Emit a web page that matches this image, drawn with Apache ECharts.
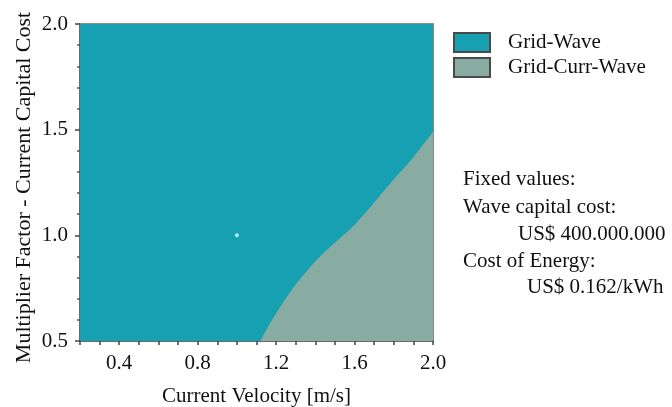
<!DOCTYPE html>
<html>
<head>
<meta charset="utf-8">
<script src="https://cdn.jsdelivr.net/npm/echarts@6/dist/echarts.min.js"></script>
<style>
  html, body { margin: 0; padding: 0; background: #ffffff; }
  #chart { width: 672px; height: 407px; }
</style>
</head>
<body>
<div id="chart"></div>
<script>
// Region boundary between the two optimal configurations
const boundaryX = [1.12, 1.17, 1.22, 1.29, 1.36, 1.44, 1.53, 1.61, 1.70, 1.80, 1.90, 2.00];
const boundaryY = [0.50, 0.585, 0.66, 0.755, 0.835, 0.915, 0.99, 1.06, 1.155, 1.265, 1.37, 1.49];

const xRange = [0.2, 2.0];
const yRange = [0.5, 2.0];
const xLabelTicks = [0.4, 0.8, 1.2, 1.6, 2.0];
const yLabelTicks = [0.5, 1.0, 1.5, 2.0];

const seriesNames = ['Grid-Wave', 'Grid-Curr-Wave'];
const baseCase = [1.0, 1.0];

const noteLines = [
  'Fixed values:',
  'Wave capital cost:',
  'US$ 400.000.000',
  'Cost of Energy:',
  'US$ 0.162/kWh'
];

const TEAL = '#16a0b2';
const GREY = '#88aca2';
const FONT = '"Liberation Serif", "DejaVu Serif", serif';
const FS = 21;

const chart = echarts.init(document.getElementById('chart'), null, { renderer: 'canvas' });

const fullArea = [[xRange[0], yRange[1]], [xRange[1], yRange[1]]];
const boundaryData = boundaryX.map((x, i) => [x, boundaryY[i]]);

function isLabelTick(v, list) {
  return list.some(t => Math.abs(t - v) < 1e-6);
}

const option = {
  animation: false,
  backgroundColor: '#ffffff',
  grid: { left: 80, right: 239, top: 24, bottom: 66, containLabel: false, outerBoundsMode: 'none' },
  legend: {
    data: seriesNames,
    orient: 'vertical',
    left: 453,
    top: 32,
    padding: 0,
    itemWidth: 36,
    itemHeight: 19,
    itemGap: 4,
    icon: 'rect',
    textStyle: { fontFamily: FONT, fontSize: FS, color: '#111', padding: [0, 0, 0, 13] },
    selectedMode: false
  },
  xAxis: [
    {
      type: 'value',
      min: xRange[0], max: xRange[1], interval: 0.1,
      name: 'Current Velocity [m/s]',
      nameLocation: 'middle',
      nameGap: 45,
      nameMoveOverlap: false,
      nameTextStyle: { fontFamily: FONT, fontSize: FS, color: '#111' },
      axisLine: { show: true, lineStyle: { color: '#6a6a6a', width: 2 } },
      axisTick: { show: true, length: 4, lineStyle: { color: '#444', width: 1.5 } },
      axisLabel: {
        fontFamily: FONT, fontSize: FS, color: '#111', margin: 12,
        formatter: v => isLabelTick(v, xLabelTicks) ? v.toFixed(1) : ''
      },
      splitLine: { show: false }
    },
    {
      type: 'value', position: 'top',
      min: xRange[0], max: xRange[1],
      axisLine: { show: true, lineStyle: { color: '#8a8a8a', width: 2 } },
      axisTick: { show: false }, axisLabel: { show: false }, splitLine: { show: false }
    }
  ],
  yAxis: [
    {
      type: 'value',
      min: yRange[0], max: yRange[1], interval: 0.5,
      name: 'Multiplier Factor - Current Capital Cost',
      nameLocation: 'middle',
      nameGap: 45,
      nameMoveOverlap: false,
      nameTextStyle: { fontFamily: FONT, fontSize: 22, color: '#111', padding: [0, 10, 0, 0] },
      axisLine: { show: true, lineStyle: { color: '#6a6a6a', width: 2 } },
      axisTick: { show: true, length: 5, lineStyle: { color: '#444', width: 1.5 } },
      minorTick: { show: true, splitNumber: 5, length: 3, lineStyle: { color: '#555', width: 1.5 } },
      axisLabel: {
        fontFamily: FONT, fontSize: FS, color: '#111', margin: 12,
        formatter: v => isLabelTick(v, yLabelTicks) ? v.toFixed(1) : ''
      },
      splitLine: { show: false }
    },
    {
      type: 'value', position: 'right',
      min: yRange[0], max: yRange[1],
      axisLine: { show: true, lineStyle: { color: '#8a8a8a', width: 2 } },
      axisTick: { show: false }, axisLabel: { show: false }, splitLine: { show: false }
    }
  ],
  series: [
    {
      name: seriesNames[0],
      type: 'line',
      data: fullArea,
      symbol: 'none',
      lineStyle: { width: 0, color: TEAL },
      itemStyle: { color: TEAL, borderColor: '#4a4a4a', borderWidth: 2 },
      areaStyle: { color: TEAL, opacity: 1, origin: 'start' },
      silent: true,
      z: 1
    },
    {
      name: seriesNames[1],
      type: 'line',
      data: boundaryData,
      symbol: 'none',
      smooth: 0.3,
      lineStyle: { width: 0, color: GREY },
      itemStyle: { color: GREY, borderColor: '#4a4a4a', borderWidth: 2 },
      areaStyle: { color: GREY, opacity: 1, origin: 'start' },
      silent: true,
      z: 2
    },
    {
      name: 'base',
      type: 'scatter',
      data: [baseCase],
      symbolSize: 4,
      itemStyle: { color: '#d8ffff' },
      silent: true,
      z: 3
    }
  ],
  graphic: noteLines.map((t, i) => ({
    type: 'text',
    left: (i === 2) ? 518 : (i === 4 ? 527 : 463),
    top: [180, 208, 235, 262, 288][i] - 11,
    style: { text: t, font: FS + 'px ' + FONT, fill: '#111' }
  }))
};

chart.setOption(option);
</script>
</body>
</html>
